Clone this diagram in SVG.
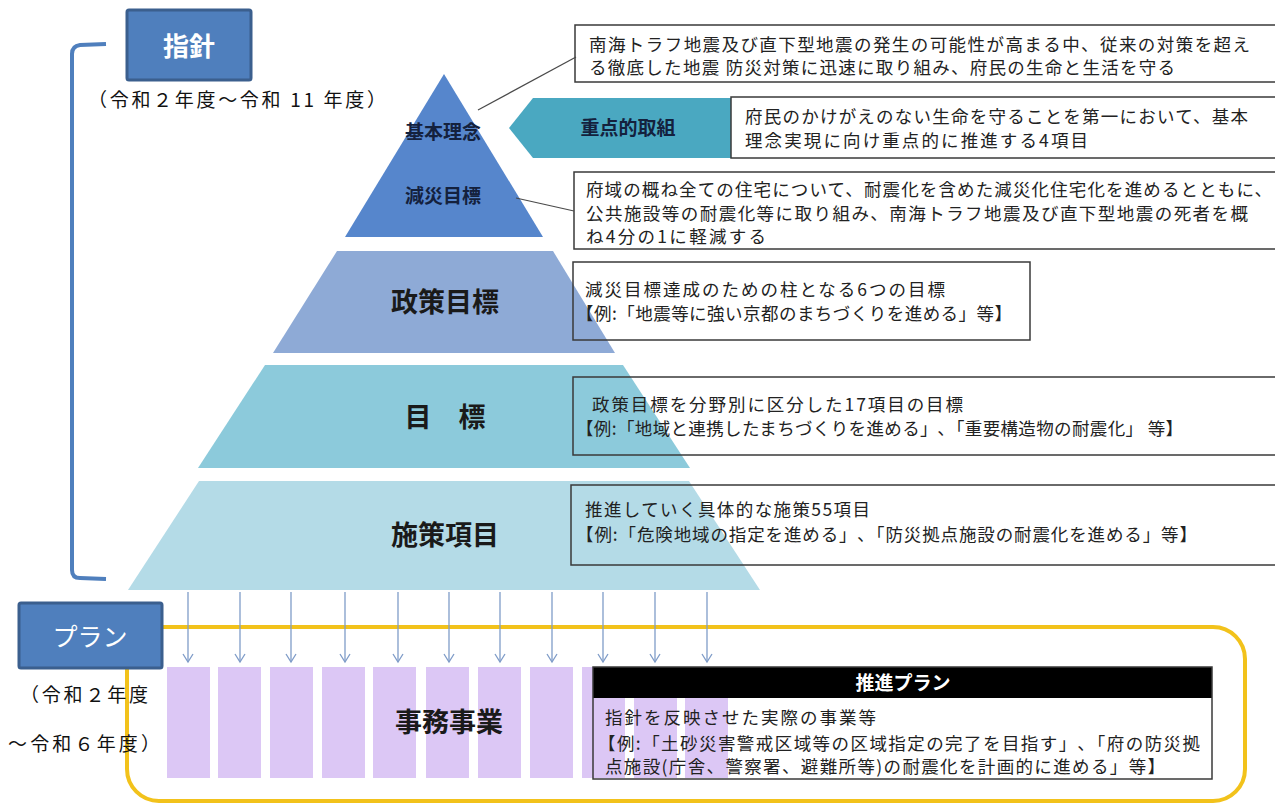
<svg xmlns="http://www.w3.org/2000/svg" width="1275" height="805" viewBox="0 0 1275 805">
<defs>
<style>
.jp{font-family:"Noto Sans CJK JP","Noto Sans CJK SC",sans-serif;}
.t{font-size:17.5px;fill:#222;}
.lbl{font-size:19px;font-weight:bold;fill:#14213d;}
.big{font-size:27px;font-weight:bold;fill:#1a1a1a;}
.box{fill:none;stroke:#3a3a3a;stroke-width:1.5;}
.wbox{fill:#fff;stroke:#3a3a3a;stroke-width:1.5;}
.head{fill:#4f7fbd;stroke:#3b5f8e;stroke-width:3;}
.arr{stroke:#7f9cc8;stroke-width:1.3;fill:none;}
.bar{fill:#dcc7f5;}
.lead{stroke:#4a4a4a;stroke-width:1.2;fill:none;}
.yr{font-size:19px;fill:#111;}
</style>
<marker id="ah" markerWidth="12" markerHeight="12" refX="9" refY="6" orient="auto" markerUnits="userSpaceOnUse">
<path d="M1,1 L9,6 L1,11" fill="none" stroke="#7f9cc8" stroke-width="1.3"/>
</marker>
</defs>
<rect width="1275" height="805" fill="#fff"/>

<!-- bracket for 指針 -->
<path id="bracket" d="M106,44 L80,45 Q72,46 72,54 L72,570 Q72,578 80,578 L106,579" fill="none" stroke="#4f7fbd" stroke-width="4"/>

<g id="node-shishin">
<rect class="head" x="127" y="10" width="124" height="70" rx="2"/>
<text class="jp" x="189" y="56" text-anchor="middle" font-size="26" font-weight="bold" fill="#fff">指針</text>
</g>
<text class="jp yr" x="88" y="107" textLength="298">（令和２年度～令和 11 年度）</text>

<!-- box 1 -->
<g id="node-box1">
<rect class="wbox" x="575" y="25" width="710" height="57"/>
<text class="jp t" x="589" y="51" textLength="661">南海トラフ地震及び直下型地震の発生の可能性が高まる中、従来の対策を超え</text>
<text class="jp t" x="589" y="74" textLength="586">る徹底した地震 防災対策に迅速に取り組み、府民の生命と生活を守る</text>
</g>

<!-- hexagon 重点的取組 -->
<g id="node-juten">
<polygon points="509,128 533,98 740,98 740,158 533,158" fill="#4aa8c1"/>
<text class="jp lbl" x="628" y="135" text-anchor="middle">重点的取組</text>
</g>
<g id="node-box2">
<rect class="wbox" x="731" y="97" width="554" height="61"/>
<text class="jp t" x="745" y="123" textLength="503">府民のかけがえのない生命を守ることを第一において、基本</text>
<text class="jp t" x="745" y="147" textLength="343">理念実現に向け重点的に推進する4項目</text>
</g>

<g id="node-box3">
<rect class="wbox" x="574" y="172" width="711" height="77"/>
<text class="jp t" x="586" y="196" textLength="686">府域の概ね全ての住宅について、耐震化を含めた減災化住宅化を進めるとともに、</text>
<text class="jp t" x="586" y="220" textLength="662">公共施設等の耐震化等に取り組み、南海トラフ地震及び直下型地震の死者を概</text>
<text class="jp t" x="586" y="243" textLength="180">ね4分の1に軽減する</text>
</g>

<!-- pyramid -->
<g id="node-top">
<polygon points="444,74 543,237 345,237" fill="#5686cc"/>
<text class="jp lbl" x="443" y="139" text-anchor="middle">基本理念</text>
<text class="jp lbl" x="443" y="203" text-anchor="middle">減災目標</text>
</g>
<g id="node-seisaku">
<polygon points="337,251 553,251 615,353 273,353" fill="#8eaad6"/>
<text class="jp big" x="445" y="312" text-anchor="middle">政策目標</text>
</g>
<g id="node-mokuhyo">
<polygon points="265,365 623,365 690,468 198,468" fill="#8ccadb"/>
<text class="jp big" x="445" y="427" text-anchor="middle">目　標</text>
</g>
<g id="node-shisaku">
<polygon points="199,481 689,481 760,590 128,590" fill="#b4dbe7"/>
<text class="jp big" x="445" y="545" text-anchor="middle">施策項目</text>
</g>

<g id="node-box4">
<rect class="box" x="573" y="262" width="457" height="78"/>
<text class="jp t" x="585" y="296" textLength="360">減災目標達成のための柱となる6つの目標</text>
<text class="jp t" x="576" y="320" textLength="436">【例:「地震等に強い京都のまちづくりを進める」等】</text>
</g>
<g id="node-box5">
<rect class="box" x="573" y="377" width="712" height="78"/>
<text class="jp t" x="592" y="411" textLength="371">政策目標を分野別に区分した17項目の目標</text>
<text class="jp t" x="576" y="435" textLength="607">【例:「地域と連携したまちづくりを進める」､「重要構造物の耐震化」 等】</text>
</g>
<g id="node-box6">
<rect class="box" x="571" y="485" width="714" height="80"/>
<text class="jp t" x="585" y="516" textLength="285">推進していく具体的な施策55項目</text>
<text class="jp t" x="576" y="541" textLength="621">【例:「危険地域の指定を進める」､「防災拠点施設の耐震化を進める」等】</text>
</g>

<!-- plan frame -->
<rect id="plan-frame" x="127" y="627" width="1118" height="174" rx="32" fill="none" stroke="#f2c21b" stroke-width="4"/>

<g id="node-plan">
<rect class="head" x="19" y="603" width="143" height="65" rx="2"/>
<text class="jp" x="90" y="646" text-anchor="middle" font-size="25" fill="#fff">プラン</text>
</g>
<text class="jp yr" x="20" y="702" textLength="128">（令和２年度</text>
<text class="jp yr" x="8" y="751" textLength="152">～令和６年度）</text>

<!-- 事務事業 bars -->
<g id="node-jimu">
<rect class="bar" x="167" y="667" width="43" height="111"/>
<rect class="bar" x="218" y="667" width="43" height="111"/>
<rect class="bar" x="270" y="667" width="43" height="111"/>
<rect class="bar" x="322" y="667" width="43" height="111"/>
<rect class="bar" x="373" y="667" width="43" height="111"/>
<rect class="bar" x="426" y="667" width="43" height="111"/>
<rect class="bar" x="478" y="667" width="43" height="111"/>
<rect class="bar" x="530" y="667" width="43" height="111"/>
<rect class="bar" x="582" y="667" width="43" height="111"/>
<rect class="bar" x="634" y="667" width="43" height="111"/>
<rect class="bar" x="685" y="667" width="43" height="111"/>
<text class="jp big" x="449" y="732" text-anchor="middle">事務事業</text>
</g>

<g id="node-suishin">
<rect x="593" y="667" width="619" height="31" fill="#000"/>
<text class="jp" x="903" y="690" text-anchor="middle" font-size="19" font-weight="bold" fill="#fff">推進プラン</text>
<rect class="box" x="593" y="667" width="619" height="112"/>
<text class="jp t" x="605" y="724" textLength="271">指針を反映させた実際の事業等</text>
<text class="jp t" x="598" y="750" textLength="602">【例:「土砂災害警戒区域等の区域指定の完了を目指す」､「府の防災拠</text>
<text class="jp t" x="605" y="773" textLength="560">点施設(庁舎、警察署、避難所等)の耐震化を計画的に進める」等】</text>
</g>

<!-- connectors -->
<g id="connectors">
<line class="lead" x1="478" y1="110" x2="576" y2="57"/>
<line class="lead" x1="516" y1="198" x2="574" y2="211"/>
<g class="arr" marker-end="url(#ah)">
<line x1="188" y1="592" x2="188" y2="662"/>
<line x1="240" y1="592" x2="240" y2="662"/>
<line x1="291" y1="592" x2="291" y2="662"/>
<line x1="345" y1="592" x2="345" y2="662"/>
<line x1="398" y1="592" x2="398" y2="662"/>
<line x1="449" y1="592" x2="449" y2="662"/>
<line x1="500" y1="592" x2="500" y2="662"/>
<line x1="552" y1="592" x2="552" y2="662"/>
<line x1="603" y1="592" x2="603" y2="662"/>
<line x1="655" y1="592" x2="655" y2="662"/>
<line x1="707" y1="592" x2="707" y2="662"/>
</g>
</g>
</svg>
